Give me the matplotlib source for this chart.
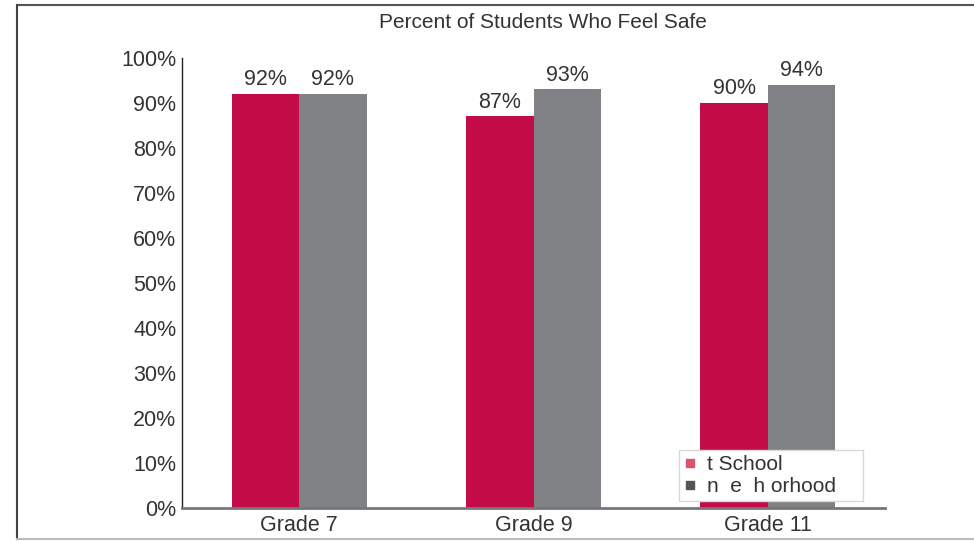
import matplotlib.pyplot as plt
from matplotlib.lines import Line2D
import numpy as np

grades = ["Grade 7", "Grade 9", "Grade 11"]
at_school = [92, 87, 90]
neighborhood = [92, 93, 94]
series_names = ["t School", "n  e  h orhood"]
yticks = [0, 10, 20, 30, 40, 50, 60, 70, 80, 90, 100]

red = "#C30B47"
gray = "#808184"
text_color = "#333333"

plt.rcParams['font.family'] = ['Liberation Sans', 'DejaVu Sans']

fig = plt.figure(figsize=(9.74, 5.41), dpi=100)
ax = fig.add_axes([0.1869, 0.061, 0.7217, 0.8318])

x = np.arange(len(grades))
w = 0.288
b1 = ax.bar(x - w / 2, at_school, width=w, color=red)
b2 = ax.bar(x + w / 2, neighborhood, width=w, color=gray)

for bars, vals in ((b1, at_school), (b2, neighborhood)):
  for bar, v in zip(bars, vals):
    ax.text(bar.get_x() + bar.get_width() / 2, v + 0.8, f"{v}%",
            ha="center", va="bottom", fontsize=15.5, color=text_color)

ax.set_xlim(-0.5, 2.5)
ax.set_ylim(0, 100)
ax.set_yticks(yticks)
ax.set_yticklabels([f"{t}%" for t in yticks])
ax.set_xticks(x)
ax.set_xticklabels(grades)
ax.tick_params(axis="both", length=0, labelsize=15.5, colors=text_color)
ax.tick_params(axis="y", pad=4)
ax.tick_params(axis="x", pad=5)

for s in ("top", "right"):
  ax.spines[s].set_visible(False)
ax.spines["left"].set_color("#222222")
ax.spines["left"].set_linewidth(1.0)
ax.spines["bottom"].set_color("#777777")
ax.spines["bottom"].set_linewidth(2.0)

handles = [
  Line2D([0], [0], marker="s", linestyle="", markersize=6,
         markerfacecolor="#D9536B", markeredgecolor="#D9536B"),
  Line2D([0], [0], marker="s", linestyle="", markersize=6,
         markerfacecolor="#555555", markeredgecolor="#555555"),
]
leg = ax.legend(handles, series_names, loc="lower left",
                bbox_to_anchor=(0.707, 0.015, 0.262, 0), mode="expand",
                fontsize=15, frameon=True,
                fancybox=False, edgecolor="#D8D8D8", framealpha=1,
                handlelength=0.6, handletextpad=0.5, borderpad=0.25,
                labelspacing=0.15, borderaxespad=0)
leg.get_frame().set_linewidth(1.0)
for t in leg.get_texts():
  t.set_color(text_color)

fig.text(0.557, 0.958, "Percent of Students Who Feel Safe", ha="center",
         va="center", fontsize=15, color=text_color)

# outer frame lines
fig.add_artist(Line2D([17 / 974, 1.0], [1 - 5 / 541, 1 - 5 / 541],
                      color="#555555", linewidth=1.5, transform=fig.transFigure))
fig.add_artist(Line2D([17 / 974, 17 / 974], [1 - 5 / 541, 2 / 541],
                      color="#444444", linewidth=1.5, transform=fig.transFigure))
fig.add_artist(Line2D([17 / 974, 1.0], [2 / 541, 2 / 541],
                      color="#BBBBBB", linewidth=1.5, transform=fig.transFigure))

fig.savefig("out.png", dpi=100)
